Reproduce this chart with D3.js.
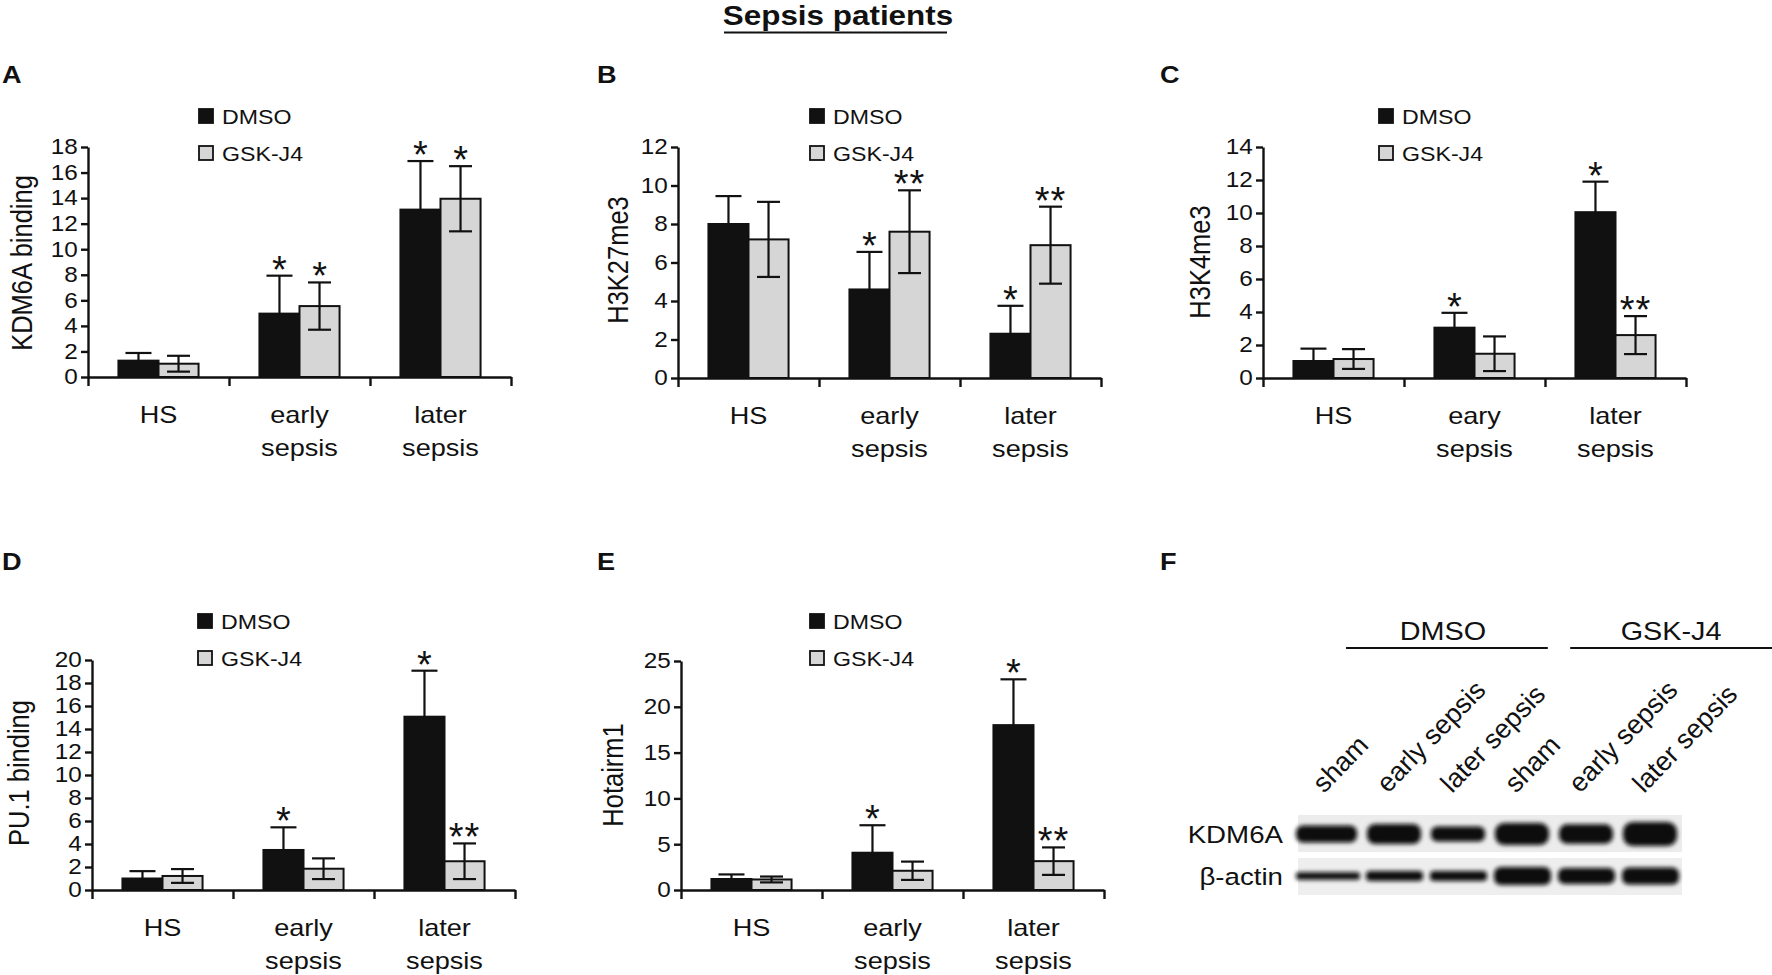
<!DOCTYPE html>
<html>
<head>
<meta charset="utf-8">
<script src="https://cdn.jsdelivr.net/npm/d3@7"></script>
<style>
  body { margin: 0; background: #fff; }
  text { font-family: "Liberation Sans", Arial, sans-serif; fill: #111; }
</style>
</head>
<body>
<svg id="fig" width="1772" height="975"></svg>
<script>
// groups and series
const groups = ["HS", "early|sepsis", "later|sepsis"]
const groupsC = ["HS", "eary|sepsis", "later|sepsis"]
const series = ["DMSO", "GSK-J4"]

// A: KDM6A binding
const kdm6aDmso = [1.28, 4.96, 13.1]
const kdm6aDmsoErr = [0.6, 2.97, 3.8]
const kdm6aGsk = [1.04, 5.55, 13.95]
const kdm6aGskErr = [0.62, 1.85, 2.55]
const kdm6aStars = [["", ""], ["*", "*"], ["*", "*"]]
const kdm6aTicks = [0, 2, 4, 6, 8, 10, 12, 14, 16, 18]

// B: H3K27me3
const h3k27Dmso = [8.0, 4.6, 2.3]
const h3k27DmsoErr = [1.45, 1.95, 1.45]
const h3k27Gsk = [7.2, 7.6, 6.9]
const h3k27GskErr = [1.95, 2.15, 2.0]
const h3k27Stars = [["", ""], ["*", "**"], ["*", "**"]]
const h3k27Ticks = [0, 2, 4, 6, 8, 10, 12]

// C: H3K4me3
const h3k4Dmso = [1.03, 3.05, 10.05]
const h3k4DmsoErr = [0.75, 0.9, 1.85]
const h3k4Gsk = [1.15, 1.47, 2.6]
const h3k4GskErr = [0.6, 1.05, 1.15]
const h3k4Stars = [["", ""], ["*", ""], ["*", "**"]]
const h3k4Ticks = [0, 2, 4, 6, 8, 10, 12, 14]

// D: PU.1 binding
const pu1Dmso = [1.0, 3.48, 15.07]
const pu1DmsoErr = [0.64, 1.97, 4.0]
const pu1Gsk = [1.22, 1.85, 2.5]
const pu1GskErr = [0.6, 0.9, 1.55]
const pu1Stars = [["", ""], ["*", ""], ["*", "**"]]
const pu1Ticks = [0, 2, 4, 6, 8, 10, 12, 14, 16, 18, 20]

// E: Hotairm1
const hotDmso = [1.2, 4.07, 18.0]
const hotDmsoErr = [0.5, 3.0, 5.0]
const hotGsk = [1.15, 2.1, 3.15]
const hotGskErr = [0.32, 1.0, 1.5]
const hotStars = [["", ""], ["*", ""], ["*", "**"]]
const hotTicks = [0, 5, 10, 15, 20, 25]

// F: western blot
const lanes = ["sham", "early sepsis", "later sepsis", "sham", "early sepsis", "later sepsis"]
const treatments = ["DMSO", "GSK-J4"]
const kdm6aBand = [0.78, 0.92, 0.68, 1.0, 0.88, 1.1]
const actinBand = [0.42, 0.55, 0.55, 1.0, 0.88, 0.95]

const svg = d3.select("#fig")
const light = "#d6d6d6"
const ink = "#111"
const SX = 1.13 // the figure's lettering is a little wider than plain Arial

const defs = svg.append("defs")
defs.append("filter").attr("id", "blur")
  .attr("x", "-20%").attr("y", "-50%").attr("width", "140%").attr("height", "200%")
  .append("feGaussianBlur").attr("stdDeviation", 2.2)

// title
svg.append("text")
  .attr("transform", `translate(838,25) scale(${SX * 1.03},1)`)
  .attr("text-anchor", "middle")
  .style("font-size", "27px").style("font-weight", "bold")
  .text("Sepsis patients")
svg.append("line")
  .attr("x1", 724).attr("x2", 947).attr("y1", 32.5).attr("y2", 32.5)
  .attr("stroke", ink).attr("stroke-width", 2)

const panels = [
  { letter: "A", lx: 2, ly: 83, label: "KDM6A binding", tx: 32, ty: 263, left: 88, bottom: 377, top: 147,
    ticks: kdm6aTicks, cats: groups, dmso: kdm6aDmso, dmsoErr: kdm6aDmsoErr, gsk: kdm6aGsk, gskErr: kdm6aGskErr,
    stars: kdm6aStars, legX: 199, legY: 116 },
  { letter: "B", lx: 597, ly: 83, label: "H3K27me3", tx: 628, ty: 260, left: 678, bottom: 378, top: 147,
    ticks: h3k27Ticks, cats: groups, dmso: h3k27Dmso, dmsoErr: h3k27DmsoErr, gsk: h3k27Gsk, gskErr: h3k27GskErr,
    stars: h3k27Stars, legX: 810, legY: 116 },
  { letter: "C", lx: 1160, ly: 83, label: "H3K4me3", tx: 1210, ty: 262, left: 1263, bottom: 378, top: 147,
    ticks: h3k4Ticks, cats: groupsC, dmso: h3k4Dmso, dmsoErr: h3k4DmsoErr, gsk: h3k4Gsk, gskErr: h3k4GskErr,
    stars: h3k4Stars, legX: 1379, legY: 116 },
  { letter: "D", lx: 2, ly: 570, label: "PU.1 binding", tx: 29, ty: 773, left: 92, bottom: 890, top: 660,
    ticks: pu1Ticks, cats: groups, dmso: pu1Dmso, dmsoErr: pu1DmsoErr, gsk: pu1Gsk, gskErr: pu1GskErr,
    stars: pu1Stars, legX: 198, legY: 621 },
  { letter: "E", lx: 597, ly: 570, label: "Hotairm1", tx: 623, ty: 775, left: 681, bottom: 890, top: 661,
    ticks: hotTicks, cats: groups, dmso: hotDmso, dmsoErr: hotDmsoErr, gsk: hotGsk, gskErr: hotGskErr,
    stars: hotStars, legX: 810, legY: 621 }
]

panels.forEach(barPanel)
blotPanel()

function letter(g, x, y, t) {
  g.append("text")
    .attr("transform", `translate(${x},${y}) scale(${SX},1)`)
    .style("font-size", "24px").style("font-weight", "bold")
    .text(t)
}

function barPanel(p) {
  const g = svg.append("g")
  const width = 423

  const x = d3.scaleBand().domain(p.cats).range([p.left, p.left + width])
  const xs = d3.scaleBand().domain(series).range([0, x.bandwidth()]).paddingOuter(0.76)
  const y = d3.scaleLinear().domain([0, d3.max(p.ticks)]).range([p.bottom, p.top])
  const edges = d3.scaleLinear().domain([0, p.cats.length]).range([p.left, p.left + width])

  const rows = p.cats.map((c, i) => [
    { cat: c, key: "DMSO", v: p.dmso[i], e: p.dmsoErr[i], star: p.stars[i][0] },
    { cat: c, key: "GSK-J4", v: p.gsk[i], e: p.gskErr[i], star: p.stars[i][1] }
  ]).flat()

  letter(g, p.lx, p.ly, p.letter)

  // bars
  g.append("g").selectAll("rect").data(rows).join("rect")
    .attr("x", d => x(d.cat) + xs(d.key))
    .attr("y", d => y(d.v))
    .attr("width", xs.bandwidth())
    .attr("height", d => y(0) - y(d.v))
    .attr("fill", d => d.key === "DMSO" ? ink : light)
    .attr("stroke", ink).attr("stroke-width", 2)

  // error bars
  const err = g.append("g").attr("stroke", ink).attr("stroke-width", 2.2)
  const cx = d => x(d.cat) + xs(d.key) + xs.bandwidth() / 2
  const half = d => d.key === "DMSO" ? 13 : 11.5
  err.selectAll(".stem").data(rows).join("line")
    .attr("x1", cx).attr("x2", cx)
    .attr("y1", d => y(d.key === "DMSO" ? d.v : d.v - d.e)).attr("y2", d => y(d.v + d.e))
  err.selectAll(".cap").data(rows).join("line")
    .attr("x1", d => cx(d) - half(d)).attr("x2", d => cx(d) + half(d))
    .attr("y1", d => y(d.v + d.e)).attr("y2", d => y(d.v + d.e))
  err.selectAll(".low").data(rows.filter(d => d.key !== "DMSO")).join("line")
    .attr("x1", d => cx(d) - half(d)).attr("x2", d => cx(d) + half(d))
    .attr("y1", d => y(d.v - d.e)).attr("y2", d => y(d.v - d.e))

  // significance stars
  g.append("g").selectAll("text").data(rows.filter(d => d.star)).join("text")
    .attr("x", cx)
    .attr("y", d => y(d.v + d.e) + 7)
    .attr("text-anchor", "middle")
    .style("font-size", "38px")
    .style("letter-spacing", d => d.star.length > 1 ? "1px" : null)
    .text(d => d.star)

  // y axis
  g.append("g")
    .attr("transform", `translate(${p.left},0)`)
    .call(d3.axisLeft(y).tickValues(p.ticks).tickSize(7).tickSizeOuter(0).tickPadding(2))
    .call(a => a.selectAll("line, path").attr("stroke", ink).attr("stroke-width", 2.4))
    .call(a => a.selectAll("text").attr("font-family", null).style("font-size", "21.5px")
      .attr("fill", ink).attr("transform", `scale(${SX},1)`))
    .attr("font-family", null)

  // x axis, ticks on group edges
  g.append("g")
    .attr("transform", `translate(0,${p.bottom})`)
    .call(d3.axisBottom(edges).tickValues(d3.range(p.cats.length + 1)).tickSize(9).tickSizeOuter(0).tickFormat(""))
    .call(a => a.selectAll("line, path").attr("stroke", ink).attr("stroke-width", 2.4))

  const lab = g.append("g").selectAll("text").data(p.cats).join("text")
    .attr("transform", d => `translate(${x(d) + x.bandwidth() / 2},${p.bottom}) scale(${SX},1)`)
    .attr("text-anchor", "middle")
    .style("font-size", "24px")
  lab.selectAll("tspan").data(d => d.split("|")).join("tspan")
    .attr("x", 0)
    .attr("y", (d, i) => 46 + i * 33)
    .text(d => d)

  // y label
  g.append("text")
    .attr("transform", `translate(${p.tx},${p.ty}) scale(${SX},1) rotate(-90)`)
    .attr("text-anchor", "middle")
    .style("font-size", "25.5px")
    .text(p.label)

  // legend
  const leg = g.append("g").selectAll("g").data(series).join("g")
    .attr("transform", (d, i) => `translate(${p.legX},${p.legY + i * 37})`)
  leg.append("rect")
    .attr("x", 0).attr("y", -7).attr("width", 14).attr("height", 14)
    .attr("fill", (d, i) => i === 0 ? ink : light)
    .attr("stroke", ink).attr("stroke-width", 1.8)
  leg.append("text")
    .attr("transform", `translate(23,8) scale(${SX},1)`)
    .style("font-size", "20.5px")
    .text(d => d)
}

function blotPanel() {
  const g = svg.append("g")
  const lane = d3.scaleBand().domain(d3.range(lanes.length)).range([1298, 1682])
  const rowsY = { kdm6a: 834, actin: 876 }
  const box = { top: 815, mid: 858, h: 37 }

  letter(g, 1160, 570, "F")

  // treatment headers
  const head = d3.scaleBand().domain(treatments).range([1346, 1772]).paddingInner(0.1)
  g.selectAll(".hd").data(treatments).join("text")
    .attr("transform", d => `translate(${head(d) + head.bandwidth() / 2 + (d === "DMSO" ? -4 : 0)},640) scale(${SX},1)`)
    .attr("text-anchor", "middle")
    .style("font-size", "25.5px")
    .text(d => d)
  g.selectAll(".hl").data(treatments).join("line")
    .attr("x1", d => head(d)).attr("x2", d => head(d) + head.bandwidth())
    .attr("y1", 648).attr("y2", 648)
    .attr("stroke", ink).attr("stroke-width", 2)

  // lane labels
  g.selectAll(".ln").data(lanes).join("text")
    .attr("transform", (d, i) => `translate(${lane(i) + lane.bandwidth() / 2 - 6},794) rotate(-46)`)
    .style("font-size", "27px")
    .text(d => d)

  // blot backgrounds
  g.append("rect").attr("x", 1298).attr("y", box.top).attr("width", 384).attr("height", box.h).attr("fill", "#ececec")
  g.append("rect").attr("x", 1298).attr("y", box.mid).attr("width", 384).attr("height", box.h).attr("fill", "#eeeeee")

  const bands = g.append("g").attr("filter", "url(#blur)")
  bands.selectAll(".k").data(kdm6aBand).join("rect")
    .attr("x", (d, i) => lane(i) + (i === 0 ? -2 : 5)).attr("width", (d, i) => lane.bandwidth() - (i === 0 ? 3 : 10))
    .attr("y", d => rowsY.kdm6a - 11 * d).attr("height", d => 22 * d)
    .attr("rx", d => 9 * d)
    .attr("fill", "#0a0a0a")
  bands.selectAll(".a").data(actinBand).join("rect")
    .attr("x", (d, i) => lane(i) + (i === 0 ? -2 : 4)).attr("width", (d, i) => lane.bandwidth() - (i === 0 ? 0 : 7))
    .attr("y", d => rowsY.actin - 9 * d).attr("height", d => 18 * d)
    .attr("rx", d => 7 * d)
    .attr("fill", "#0a0a0a")

  g.append("text").attr("transform", `translate(1283,${rowsY.kdm6a + 9}) scale(${SX},1)`)
    .attr("text-anchor", "end").style("font-size", "24.5px").text("KDM6A")
  g.append("text").attr("transform", `translate(1283,${rowsY.actin + 9}) scale(${SX},1)`)
    .attr("text-anchor", "end").style("font-size", "24.5px").text("β-actin")
}
</script>
</body>
</html>
